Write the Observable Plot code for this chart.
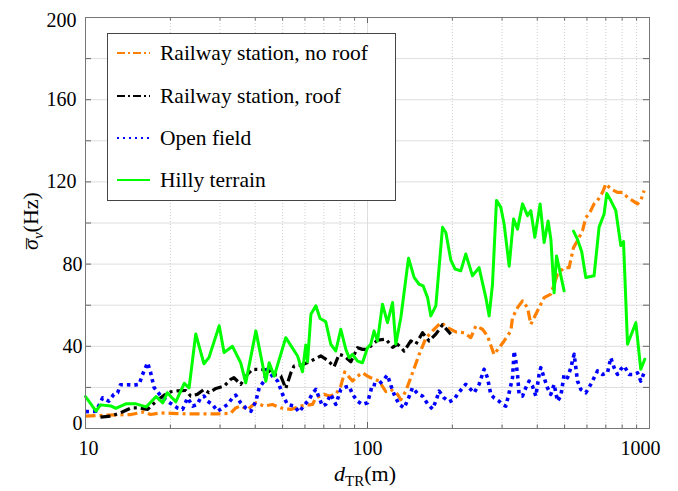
<!DOCTYPE html>
<html>
<head>
<meta charset="utf-8">
<script src="https://cdn.jsdelivr.net/npm/d3@7"></script>
<script src="https://cdn.jsdelivr.net/npm/@observablehq/plot@0.6"></script>
<style>
  html, body { margin: 0; padding: 0; background: #fff; }
  #chart svg { display: block; }
</style>
</head>
<body>
<div id="chart"></div>
<script>
// Mean Doppler spread versus transmitter-receiver distance, four environments.
// Each series: [distance (m), mean spread (Hz)]
const railwayNoRoof = [
  [10,6],[12,6.5],[14.5,6.8],[16.1,8.1],[17.0,6.8],[18.5,7.6],[20.1,7.4],[23.0,7.1],[25.6,7.1],[29.4,7.1],
  [32.7,7.4],[34.1,10],[35.5,11],[37.5,9.3],[40.2,12.5],[43.0,10.9],[46.0,11.7],[49.3,10],[53.5,9.3],[58.0,10.9],
  [63.8,11.7],[65.6,15],[70.2,16.6],[73.1,15.8],[77.2,16.6],[80.4,20.6],[83,27.5],[88.5,23.1],[92.2,25.5],[96.0,27.1],
  [100,25.5],[102.7,24.7],[109.9,23.1],[116.1,18],[121,19],[127.8,16.6],[131.3,14],[136.7,18.2],[144.4,27],[152.4,36],
  [161,44],[170.1,47.5],[182,51.5],[192.2,49.1],[205.7,47],[220.1,46.6],[232.5,44.2],[242.1,49.9],[255.7,48.3],[266.4,45],
  [281.1,36],[305.1,42.6],[322.3,47.5],[326.8,54],[340.4,58.8],[354.6,62.1],[369.4,58.8],[379.5,50.7],[395.3,55.6],[406,58.8],
  [423,63.7],[446.7,65.4],[471.8,75.1],[498,78.3],[518.7,78.3],[537.7,88],[555.5,91.4],[578.6,96.2],[594.4,102.7],[610.6,104.4],
  [636,109.3],[654,110.9],[681.3,114.9],[699.8,119],[729.1,116.6],[770,114.9],[802.2,114.9],[835.7,112.5],[870.6,110.9],[906.9,109.3],
  [931.3,110.9],[957,115.8]
];

const railwayRoof = [
  [11.3,5.5],[12.3,6],[13.5,8],[14.5,10],[15.5,10],[16.6,9.3],[17.3,11.7],[17.9,13.5],[19.0,16.2],[20.1,17.9],
  [21.2,18.3],[22.7,18.5],[23.6,15.8],[24.9,16.6],[26.3,19],[27.4,17.4],[29.0,19.5],[31.0,20.6],[32.7,23.9],[33.6,24.7],
  [35.5,21.5],[37.5,26.3],[39.1,28.8],[41.3,28.8],[44.2,28.5],[46.7,26.3],[49.3,25.5],[51.3,19.5],[53.5,27.1],[54.9,30.4],
  [58.8,31],[63.0,32.8],[68.3,35.3],[72.2,33.2],[76.1,30],[79.3,36.1],[82.6,35.3],[87.3,32.5],[92.2,39.3],[96,38.5],
  [100,38.5],[102.7,40.1],[108.5,43],[116.1,43.5],[122.7,39.5],[127.8,41],[134.9,37.7],[142.4,42.6],[148.4,41],[156.7,46.6],
  [165.4,42.6],[174.7,45.9],[184.5,50.5],[197.4,45.9]
];

const openField = [
  [10,8.2],[10.9,8.4],[11.5,14.9],[11.8,14],[12.1,13.3],[12.6,16.6],[13.0,17.4],[13.3,21.3],[14.1,21.3],[14.9,21.1],
  [15.5,21.5],[15.9,26],[16.6,32],[17.0,27.5],[17.5,20],[18.5,15.8],[19.5,13.3],[20.3,11.7],[21.2,10],[22.1,9.3],
  [23.0,14.9],[24.0,10.9],[24.9,11.7],[25.6,14.9],[26.3,15.8],[27.1,13.3],[28.2,11.7],[29.4,8.4],[30.6,10],[31.9,11.7],
  [33.2,14.9],[34.1,16.2],[35.5,12.5],[37.0,10],[38.6,8.4],[40.2,13.3],[41.3,19.8],[43.0,23.1],[44.2,28.8],[46.0,25.5],
  [48.0,23.1],[50.0,16.6],[52.0,11.7],[54.9,11],[57.2,8],[59.6,11.3],[62.1,14.1],[63.8,17],[65.6,19],[69.2,10.9],
  [71.1,11.7],[74.1,16.6],[77.2,11.7],[80.4,19],[83.8,20.2],[86.1,20.6],[88.5,16.6],[92.2,13.3],[96,11.7],[100,12.5],
  [104.2,21.5],[108.5,21],[113.0,23.1],[117.7,26],[121,21],[124.3,16.6],[129.4,11.7],[134.9,10],[140.4,15.5],[144.4,19.8],
  [150.5,17],[156.7,15.8],[163.3,12],[170.1,9.5],[174.7,13.3],[179.5,18.2],[186.9,14.9],[194.7,13],[202.8,14.1],[208.5,16.6],
  [217.3,19.8],[223.1,21.5],[232.5,19],[238.8,17.4],[248.7,21.5],[259.1,28.8],[266.4,24.7],[273.6,16.6],[281.1,14.9],[292.9,13.3],
  [301.1,11.7],[309.4,10.9],[317.8,17.4],[326.8,24.7],[331.1,37.7],[335.7,32.8],[340.4,26.3],[344.8,16.6],[354.6,15.8],[364.2,19.8],
  [374.1,23.1],[384.7,20.6],[395.3,15.8],[406,26.3],[411.7,29.6],[423,24.7],[434.7,19.8],[446.7,16.6],[458.9,21.5],[471.8,13.3],
  [484.8,15.8],[498,26.3],[512.1,24.7],[526.1,29.6],[540.5,36.1],[555.5,23.1],[570.7,19],[594.4,17.4],[619.2,21.5],[654,28],
  [681.3,26.3],[709.6,27.1],[729.1,34.4],[749,29.6],[770,26.3],[791.1,28.8],[812.8,30.4],[846.6,26.3],[882,26.3],[906.9,27.1],
  [931.3,23.1],[957,27.1]
];

// NaN marks the break between the two hilly-terrain segments
const hillyTerrain = [
  [10,15.5],[10.9,8.5],[11.3,11.5],[12.3,11],[12.8,9.8],[13.9,12],[15.1,12],[16.4,10.5],[17.8,15.5],[18.8,12.5],
  [19.5,17.4],[20.9,13],[22.4,22],[23.3,19.8],[24.6,46],[26.3,31.5],[27.4,34.5],[29.8,50],[31.0,37],[33.2,40],
  [35.5,32],[37.0,22.2],[40.2,47.5],[43.6,23],[44.8,32],[46.7,25.5],[51.3,44.2],[56.5,35.3],[58.8,27.6],[60.4,40.6],
  [61.3,32.5],[63.0,55.6],[65.6,59.7],[67.9,53.5],[71.1,52],[74.1,41],[77.2,37.7],[80.4,48.3],[83.8,38.5],[86.1,34.4],
  [88.5,36.1],[92.2,32.8],[96,32],[100,39.3],[102.7,41],[105.5,47.5],[108.5,42.6],[113,60.5],[117.7,51.5],[122.7,61.3],
  [126,41],[131.3,54],[139.8,82.9],[146.3,73.5],[152.4,70.2],[157.5,69.4],[163.3,63.7],[167.7,54.8],[174.7,59.7],[184.5,97.9],
  [189.6,95.4],[197.4,82],[204.5,77.6],[214.2,76.7],[223.1,84.9],[235.6,74.3],[248.7,78.3],[262.8,63.7],[270,54.8],[277.5,70.2],
  [286.7,111],[297,107.6],[305.1,99.5],[318,79],[329.5,102],[340.4,97],[354.6,109.3],[369.4,103.6],[379.5,106],[392.1,93],
  [409.4,109.3],[423,90.5],[437,101],[447,92],[458.9,66],[468,84],[498,67],[517,NaN],
  [537.7,96],[555.5,92],[575,86],[594.4,73.5],[636,74.3],[662.6,98],[690.2,104.4],[705.6,114.4],[729.1,110.9],[759.5,106],
  [791.1,89],[808.8,91],[835.7,41],[894.4,51.5],[931.3,28.8],[962.2,33.7]
];

const seriesNames = ["Railway station, no roof", "Railway station, roof", "Open field", "Hilly terrain"];
const seriesColors = ["#ff8000", "#000000", "#0000ff", "#00ff00"];

const yGridTicks = [20, 40, 60, 80, 100, 120, 140, 160, 180];
const yAllTicks = [0, 20, 40, 60, 80, 100, 120, 140, 160, 180, 200];
const xMajorTicks = [10, 100, 1000];
const xMinorTicks = [20, 30, 40, 50, 60, 70, 80, 90, 200, 300, 400, 500, 600, 700, 800, 900];

const W = 678, H = 491;
const mL = 85, mR = 29, mT = 17, mB = 63;
const innerW = W - mL - mR, innerH = H - mT - mB;

const px = d => d[0], py = d => d[1];
const serif = "'Liberation Serif', 'Times New Roman', serif";

const chart = Plot.plot({
  width: W, height: H,
  marginLeft: mL, marginRight: mR, marginTop: mT, marginBottom: mB,
  style: {fontFamily: serif, fontSize: "20px", background: "#fff", color: "#000"},
  x: {type: "log", domain: [10, 1000]},
  y: {domain: [0, 200]},
  marks: [
    Plot.gridY(yGridTicks, {stroke: "#dedede", strokeOpacity: 1, strokeWidth: 1}),
    Plot.gridX([100], {stroke: "#dedede", strokeOpacity: 1, strokeWidth: 1}),
    Plot.gridX(xMinorTicks, {stroke: "#cfcfcf", strokeOpacity: 1, strokeWidth: 1, strokeDasharray: "1,2"}),

    Plot.line(railwayNoRoof, {x: px, y: py, stroke: seriesColors[0], strokeWidth: 3.2, strokeDasharray: "10,4,3,4", strokeLinecap: "butt"}),
    Plot.line(railwayRoof, {x: px, y: py, stroke: seriesColors[1], strokeWidth: 3.2, strokeDasharray: "10,4,3,4", strokeLinecap: "butt"}),
    Plot.line(openField, {x: px, y: py, stroke: seriesColors[2], strokeWidth: 3.6, strokeDasharray: "3.5,4", strokeLinecap: "butt"}),
    Plot.line(hillyTerrain, {x: px, y: py, stroke: seriesColors[3], strokeWidth: 3}),

    // inward tick marks on all four sides
    Plot.tickY(yAllTicks, {y: d => d, insetRight: innerW - 6, stroke: "#666"}),
    Plot.tickY(yAllTicks, {y: d => d, insetLeft: innerW - 6, stroke: "#666"}),
    Plot.tickX(xMajorTicks, {x: d => d, insetTop: innerH - 6, stroke: "#666"}),
    Plot.tickX(xMajorTicks, {x: d => d, insetBottom: innerH - 6, stroke: "#666"}),
    Plot.tickX(xMinorTicks, {x: d => d, insetTop: innerH - 3.5, stroke: "#666"}),
    Plot.tickX(xMinorTicks, {x: d => d, insetBottom: innerH - 3.5, stroke: "#666"}),

    Plot.axisX([10], {tickSize: 0, tickPadding: 12, dx: 3, label: null, tickFormat: d => String(d)}),
    Plot.axisX([100], {tickSize: 0, tickPadding: 12, label: null, tickFormat: d => String(d)}),
    Plot.axisX([1000], {tickSize: 0, tickPadding: 12, dx: -9, label: null, tickFormat: d => String(d)}),
    Plot.axisY([120, 160], {tickSize: 0, tickPadding: 9, label: null}),
    Plot.axisY([200], {tickSize: 0, tickPadding: 9, dy: 3, label: null}),
    Plot.axisY([40, 80], {tickSize: 0, tickPadding: 3, label: null}),
    Plot.axisY([0], {tickSize: 0, tickPadding: 3, dy: -5, label: null}),

    Plot.frame({stroke: "#777", strokeWidth: 1})
  ]
});

const svg = d3.select(chart);

// axis titles with subscript parts
const xt = svg.append("text")
  .attr("x", 365).attr("y", 481)
  .attr("text-anchor", "middle")
  .style("font-family", serif).style("font-size", "22px").attr("fill", "#000");
xt.append("tspan").style("font-style", "italic").text("d");
xt.append("tspan").attr("dy", 5).style("font-size", "15px").text("TR");
xt.append("tspan").attr("dy", -5).text("(m)");

const yt = svg.append("text")
  .attr("transform", "translate(38,221) rotate(-90)")
  .attr("text-anchor", "middle")
  .style("font-family", serif).style("font-size", "22px").attr("fill", "#000");
yt.append("tspan").style("font-style", "italic").text("σ");
yt.append("tspan").attr("dx", -10).attr("dy", 4).text("\u00AF");
yt.append("tspan").attr("dx", -1).attr("dy", 1).style("font-style", "italic").style("font-size", "15px").text("ν");
yt.append("tspan").attr("dy", -5).text("(Hz)");

// legend box
const lg = svg.append("g").attr("text-anchor", "start");
lg.append("rect")
  .attr("x", 107.5).attr("y", 33.5).attr("width", 288).attr("height", 167)
  .attr("fill", "#fff").attr("stroke", "#444").attr("stroke-width", 1);
const legendDash = ["8,3,2,3", "8,3,2,3", "2,4", null];
const rowY = [53, 96, 138, 180];
seriesNames.forEach((name, i) => {
  lg.append("line")
    .attr("x1", 117).attr("x2", 150).attr("y1", rowY[i]).attr("y2", rowY[i])
    .attr("stroke", seriesColors[i]).attr("stroke-width", 2)
    .attr("stroke-dasharray", legendDash[i]);
  lg.append("text")
    .attr("x", 160).attr("y", rowY[i]).attr("dy", "0.33em")
    .attr("text-anchor", "start")
    .style("font-family", serif).style("font-size", "21.5px").attr("fill", "#000")
    .text(name);
});

document.getElementById("chart").appendChild(chart);
</script>
</body>
</html>
